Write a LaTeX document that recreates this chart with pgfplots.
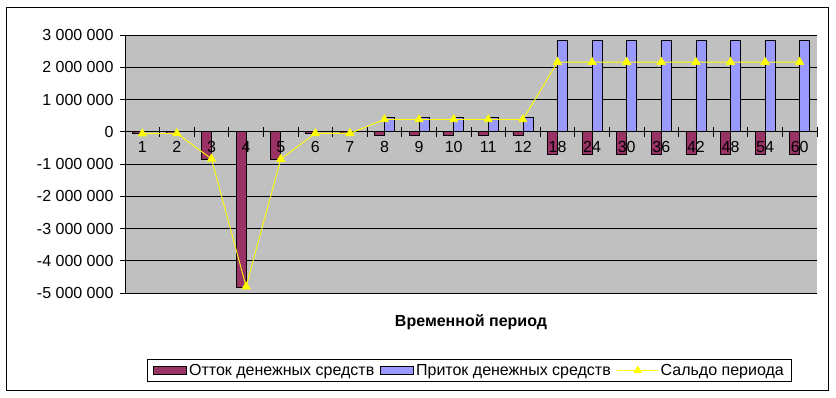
\documentclass[border=0pt]{standalone}
\usepackage{pgfplots}
\pgfplotsset{compat=1.18}
\usepackage{fontspec}
\setmainfont{Liberation Sans}
\definecolor{outc}{HTML}{993366}
\definecolor{inc}{HTML}{9999FF}
\definecolor{bg}{HTML}{C0C0C0}
\definecolor{yel}{HTML}{FFFF00}
\newcommand{\fs}{\fontsize{16}{19}\selectfont}
\begin{document}
\begin{tikzpicture}[x=1pt,y=1pt]
\useasboundingbox (0,0) rectangle (836,397);
\draw[black, line width=0.9pt] (6,7) rectangle (828,390);
\begin{axis}[
  at={(125pt,104pt)}, anchor=south west,
  scale only axis, width=692pt, height=258pt,
  xmin=-0.5, xmax=19.5, ymin=-5000000, ymax=3000000,
  axis background/.style={fill=bg},
  axis x line=middle, axis y line=left,
  axis line style={-, black, line width=0.8pt},
  hide obscured x ticks=false, hide obscured y ticks=false,
  tick align=center, major tick length=10pt,
  tick style={black, line width=0.8pt},
  xtick={-0.5,0.5,...,19.5}, xticklabels={},
  ytick={-5000000,-4000000,...,3000000},
  scaled y ticks=false,
  yticklabel style={font=\fs, xshift=-3pt, /pgf/number format/.cd, fixed, 1000 sep={\ }, assume math mode=true},
  ymajorgrids, grid style={black, line width=0.8pt},
  xlabel={Временной период},
  xlabel style={at={(axis description cs:0.5,-0.112)}, anchor=center, font=\fs\bfseries},
  legend columns=3,
  legend style={at={(0.498,-0.3)}, anchor=center, font=\fs, draw=black, line width=0.8pt,
    inner xsep=6pt, inner ysep=3pt, nodes={inner xsep=2pt},
    /tikz/every even column/.append style={column sep=4pt}},
  clip=false,
]
\addplot[ybar, bar width=10pt, bar shift=-5pt, fill=outc, draw=black, line width=0.8pt,
  legend image code/.code={\draw[fill=outc, draw=black, line width=0.8pt] (0pt,-4pt) rectangle (33pt,4pt);}]
  coordinates {(0,-60000) (1,-50000) (2,-850000) (3,-4830000) (4,-850000) (5,-50000) (6,-50000)
  (7,-120000) (8,-120000) (9,-120000) (10,-120000) (11,-120000)
  (12,-700000) (13,-700000) (14,-700000) (15,-700000) (16,-700000) (17,-700000) (18,-700000) (19,-700000)};
\addlegendentry{Отток денежных средств}
\addplot[ybar, bar width=10pt, bar shift=5pt, fill=inc, draw=black, line width=0.8pt,
  legend image code/.code={\draw[fill=inc, draw=black, line width=0.8pt] (0pt,-4pt) rectangle (33pt,4pt);}]
  coordinates {(0,0) (1,0) (2,0) (3,0) (4,0) (5,0) (6,0)
  (7,440000) (8,440000) (9,440000) (10,440000) (11,440000)
  (12,2820000) (13,2820000) (14,2820000) (15,2820000) (16,2820000) (17,2820000) (18,2820000) (19,2820000)};
\addlegendentry{Приток денежных средств}
\addplot[yel, line width=0.9pt, mark=triangle*, mark size=4.5pt, mark options={fill=yel, draw=yel},
  legend image code/.code={\draw[yel, line width=0.9pt] (0pt,0pt) -- (41pt,0pt); \fill[yel] (20.5pt,0pt) +(90:4pt) -- +(210:4pt) -- +(330:4pt) -- cycle;}]
  coordinates {(0,-60000) (1,-50000) (2,-840000) (3,-4800000) (4,-850000) (5,-50000) (6,-50000)
  (7,380000) (8,380000) (9,380000) (10,380000) (11,380000)
  (12,2160000) (13,2160000) (14,2160000) (15,2160000) (16,2160000) (17,2160000) (18,2160000) (19,2160000)};
\addlegendentry{Сальдо периода}
\end{axis}
\begin{axis}[
  at={(125pt,104pt)}, anchor=south west,
  scale only axis, width=692pt, height=258pt,
  xmin=-0.5, xmax=19.5, ymin=-5000000, ymax=3000000,
  axis x line=middle, axis y line=none,
  axis line style={draw=none},
  hide obscured x ticks=false,
  xtick={0,...,19},
  xticklabels={1,2,3,4,5,6,7,8,9,10,11,12,18,24,30,36,42,48,54,60},
  major tick length=0pt, tick style={draw=none},
  xticklabel style={font=\fs, yshift=-6pt},
]
\end{axis}
\end{tikzpicture}
\end{document}
